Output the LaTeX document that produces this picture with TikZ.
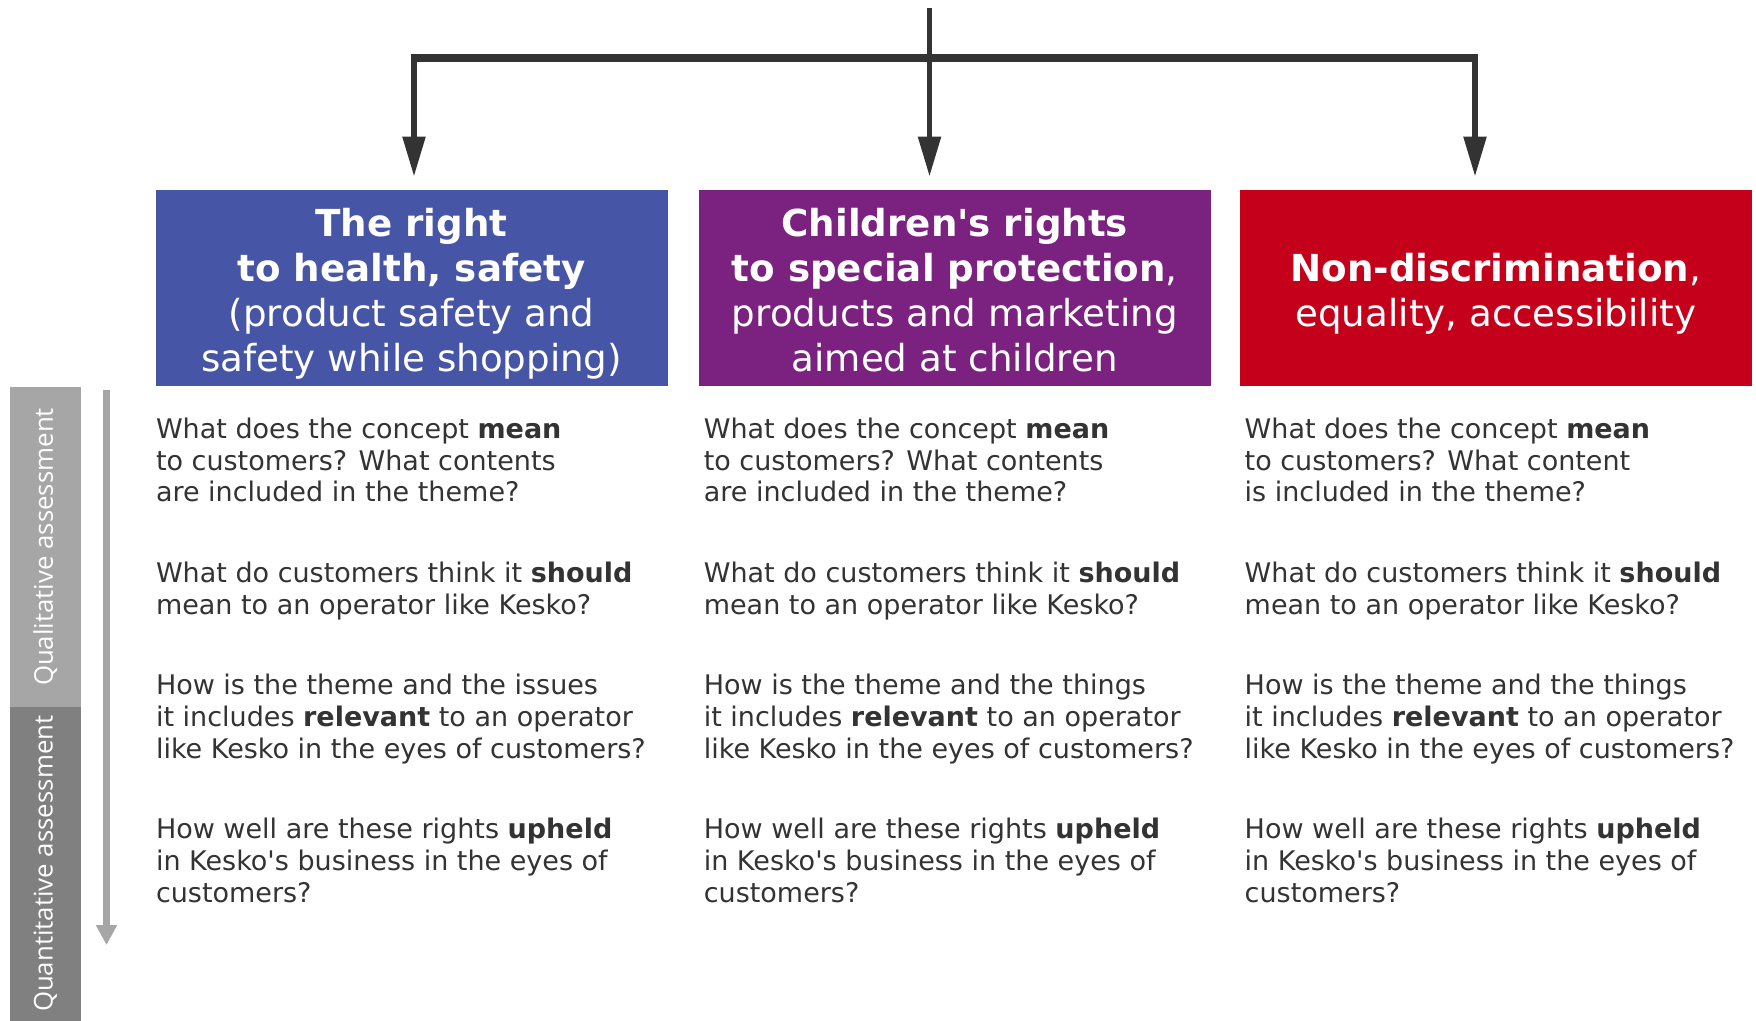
\documentclass[tikz,border=0pt]{standalone}
\usepackage{fontspec}
\setmainfont{DejaVu Sans}
\newfontfamily\barfont{Open Sans}
\usetikzlibrary{arrows.meta}

\definecolor{ink}{HTML}{333333}
\definecolor{hblue}{HTML}{4655A5}
\definecolor{hpurple}{HTML}{7B2180}
\definecolor{hred}{HTML}{C5001A}
\definecolor{qlight}{HTML}{A6A6A6}
\definecolor{qdark}{HTML}{808080}

% fixed line extents so every header block is centred on its baselines
\newcommand\hdtop{\rule{0pt}{21pt}}
\newcommand\hdbot{\rule[-4.85pt]{0pt}{4.85pt}}

\begin{document}
% 1 unit = 1 px, y grows downwards
\begin{tikzpicture}[x=0.5pt,y=-0.5pt,
  header/.style={fill=#1, text=white, inner sep=0, minimum width=256pt,
    minimum height=97.75pt, align=center,
    font=\fontsize{18.6}{22.5}\selectfont},
  qtext/.style={anchor=north west, inner sep=0, align=left, text=ink,
    font=\fontsize{13.5}{15.85}\selectfont},
  sidebar/.style={fill=#1, text=white, inner sep=0, rotate=90,
    minimum height=35.25pt, font=\barfont\fontsize{12.9}{15}\selectfont},
  hbar/.style={draw=ink, line width=4pt},
  drop/.style={draw=ink, line width=2.75pt,
    -{Triangle[length=20pt,width=11pt]}, shorten >=6.75pt},
  flow/.style={draw=qlight, line width=3.25pt,
    -{Triangle[length=10pt,width=10pt]}}
]
\useasboundingbox[fill=white] (0,0) rectangle (1756,1021);

% theme headers
\node[header=hblue] (b1) at (411.6,288.2)
  {\hdtop\textbf{The right}\\\textbf{to health, safety}\\(product safety and\\safety while shopping)\hdbot};
\node[header=hpurple] (b2) at (954.8,288.2)
  {\hdtop\textbf{Children\textquotesingle s rights}\\\textbf{to special protection},\\products and marketing\\aimed at children\hdbot};
\node[header=hred] (b3) at (1495.8,288.2)
  {\hdtop\textbf{Non-discrimination},\\equality, accessibility\hdbot};

% distribution arrows
\coordinate (src)  at (929.5,8);
\coordinate (barL) at (411,58);
\coordinate (barR) at (1478,58);
\coordinate (hubL) at (414,54);
\coordinate (hubR) at (1475,54);
\draw[hbar] (barL) -- (barR);
\draw[drop] (src) -- (src |- b2.north);
\draw[drop] (hubL) -- (hubL |- b1.north);
\draw[drop] (hubR) -- (hubR |- b3.north);

% assessment scale on the left
\node[sidebar=qlight, minimum width=159.5pt] (qual) at (45.25,547)
  {Qualitative assessment};
\node[sidebar=qdark, minimum width=157.25pt] (quant) at (45.25,863.75)
  {Quantitative assessment};
\coordinate (flowtop) at (106.5,390);
\coordinate (flowend) at (106.5,945);
\draw[flow] (flowtop) -- (flowend);

% questions, column 1
\node[qtext] (t11) at (155.6,417.6)
  {What does the concept \textbf{mean}\\to customers? What contents\\are included in the theme?};
\node[qtext] (t12) at (155.6,562)
  {What do customers think it \textbf{should}\\mean to an operator like Kesko?};
\node[qtext] (t13) at (155.6,674)
  {How is the theme and the issues\\it includes \textbf{relevant} to an operator\\like Kesko in the eyes of customers?};
\node[qtext] (t14) at (155.6,817.8)
  {How well are these rights \textbf{upheld}\\in Kesko\textquotesingle s business in the eyes of\\customers?};

% questions, column 2
\node[qtext] (t21) at (703.4,417.6)
  {What does the concept \textbf{mean}\\to customers? What contents\\are included in the theme?};
\node[qtext] (t22) at (703.4,562)
  {What do customers think it \textbf{should}\\mean to an operator like Kesko?};
\node[qtext] (t23) at (703.4,674)
  {How is the theme and the things\\it includes \textbf{relevant} to an operator\\like Kesko in the eyes of customers?};
\node[qtext] (t24) at (703.4,817.8)
  {How well are these rights \textbf{upheld}\\in Kesko\textquotesingle s business in the eyes of\\customers?};

% questions, column 3
\node[qtext] (t31) at (1244.3,417.6)
  {What does the concept \textbf{mean}\\to customers? What content\\is included in the theme?};
\node[qtext] (t32) at (1244.3,562)
  {What do customers think it \textbf{should}\\mean to an operator like Kesko?};
\node[qtext] (t33) at (1244.3,674)
  {How is the theme and the things\\it includes \textbf{relevant} to an operator\\like Kesko in the eyes of customers?};
\node[qtext] (t34) at (1244.3,817.8)
  {How well are these rights \textbf{upheld}\\in Kesko\textquotesingle s business in the eyes of\\customers?};
\end{tikzpicture}
\end{document}
